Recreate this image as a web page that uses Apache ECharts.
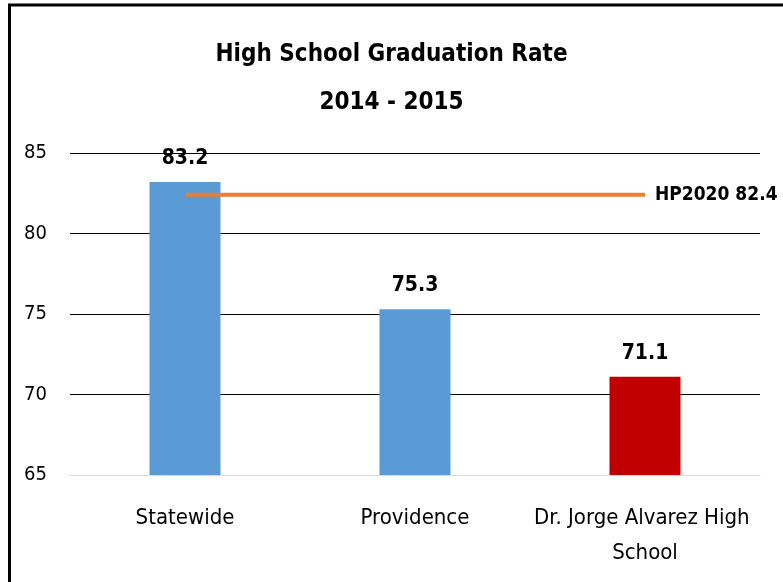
<!DOCTYPE html>
<html><head><meta charset="utf-8">
<script src="https://cdn.jsdelivr.net/npm/echarts@6/dist/echarts.min.js"></script>
<style>html,body{margin:0;padding:0;background:#fff}#c{width:783px;height:582px}</style>
</head><body><div id="c"></div>
<script>
const titleLines = ['High School Graduation Rate', '2014 - 2015'];
const categories = ['Statewide', 'Providence', 'Dr. Jorge Alvarez High School'];
const rates = [83.2, 75.3, 71.1];
const barColors = ['#5B9BD5', '#5B9BD5', '#C00000'];
const benchmarkName = 'HP2020';
const benchmarkValue = 82.4;
const yTicks = [65, 70, 75, 80, 85];

const FONT = '"Liberation Sans Narrow", "Arial Narrow", "DejaVu Sans Condensed", sans-serif';
const chart = echarts.init(document.getElementById('c'));
chart.setOption({
  animation: false,
  graphic: [{
    type: 'rect', shape: {x: 9.5, y: 5, width: 800, height: 620},
    style: {fill: 'none', stroke: '#000', lineWidth: 3}, z: 100
  }],
  title: {
    text: titleLines.join('\n'), left: 'center', top: 26,
    textStyle: {fontFamily: FONT, fontSize: 24, fontWeight: 'bold', color: '#000', lineHeight: 48}
  },
  grid: {left: 70, right: 23, top: 153, bottom: 107},
  xAxis: {
    type: 'category', data: categories,
    axisTick: {show: false},
    axisLine: {lineStyle: {color: '#d9d9d9', width: 1}},
    axisLabel: {fontFamily: FONT, fontSize: 22, color: '#000', margin: 26, lineHeight: 35, width: 225, overflow: 'break', interval: 0}
  },
  yAxis: {
    type: 'value', min: yTicks[0], max: yTicks[yTicks.length - 1], interval: 5,
    axisLine: {show: false}, axisTick: {show: false},
    splitLine: {showMinLine: false, lineStyle: {color: '#000', width: 1}},
    axisLabel: {fontFamily: FONT, fontSize: 20, color: '#000', margin: 23}
  },
  series: [{
    type: 'bar', barWidth: 71,
    data: rates.map((v, i) => ({value: v, itemStyle: {color: barColors[i]}})),
    label: {show: true, position: 'top', distance: 13, fontFamily: FONT, fontSize: 21, fontWeight: 'bold', color: '#000'}
  }, {
    type: 'line', data: categories.map(() => benchmarkValue),
    symbol: 'none', lineStyle: {color: '#ED7D31', width: 4}, z: 5,
    endLabel: {show: true, formatter: benchmarkName + ' ' + benchmarkValue, distance: 10,
      fontFamily: FONT, fontSize: 19, fontWeight: 'bold', color: '#000'}
  }]
});
</script></body></html>
